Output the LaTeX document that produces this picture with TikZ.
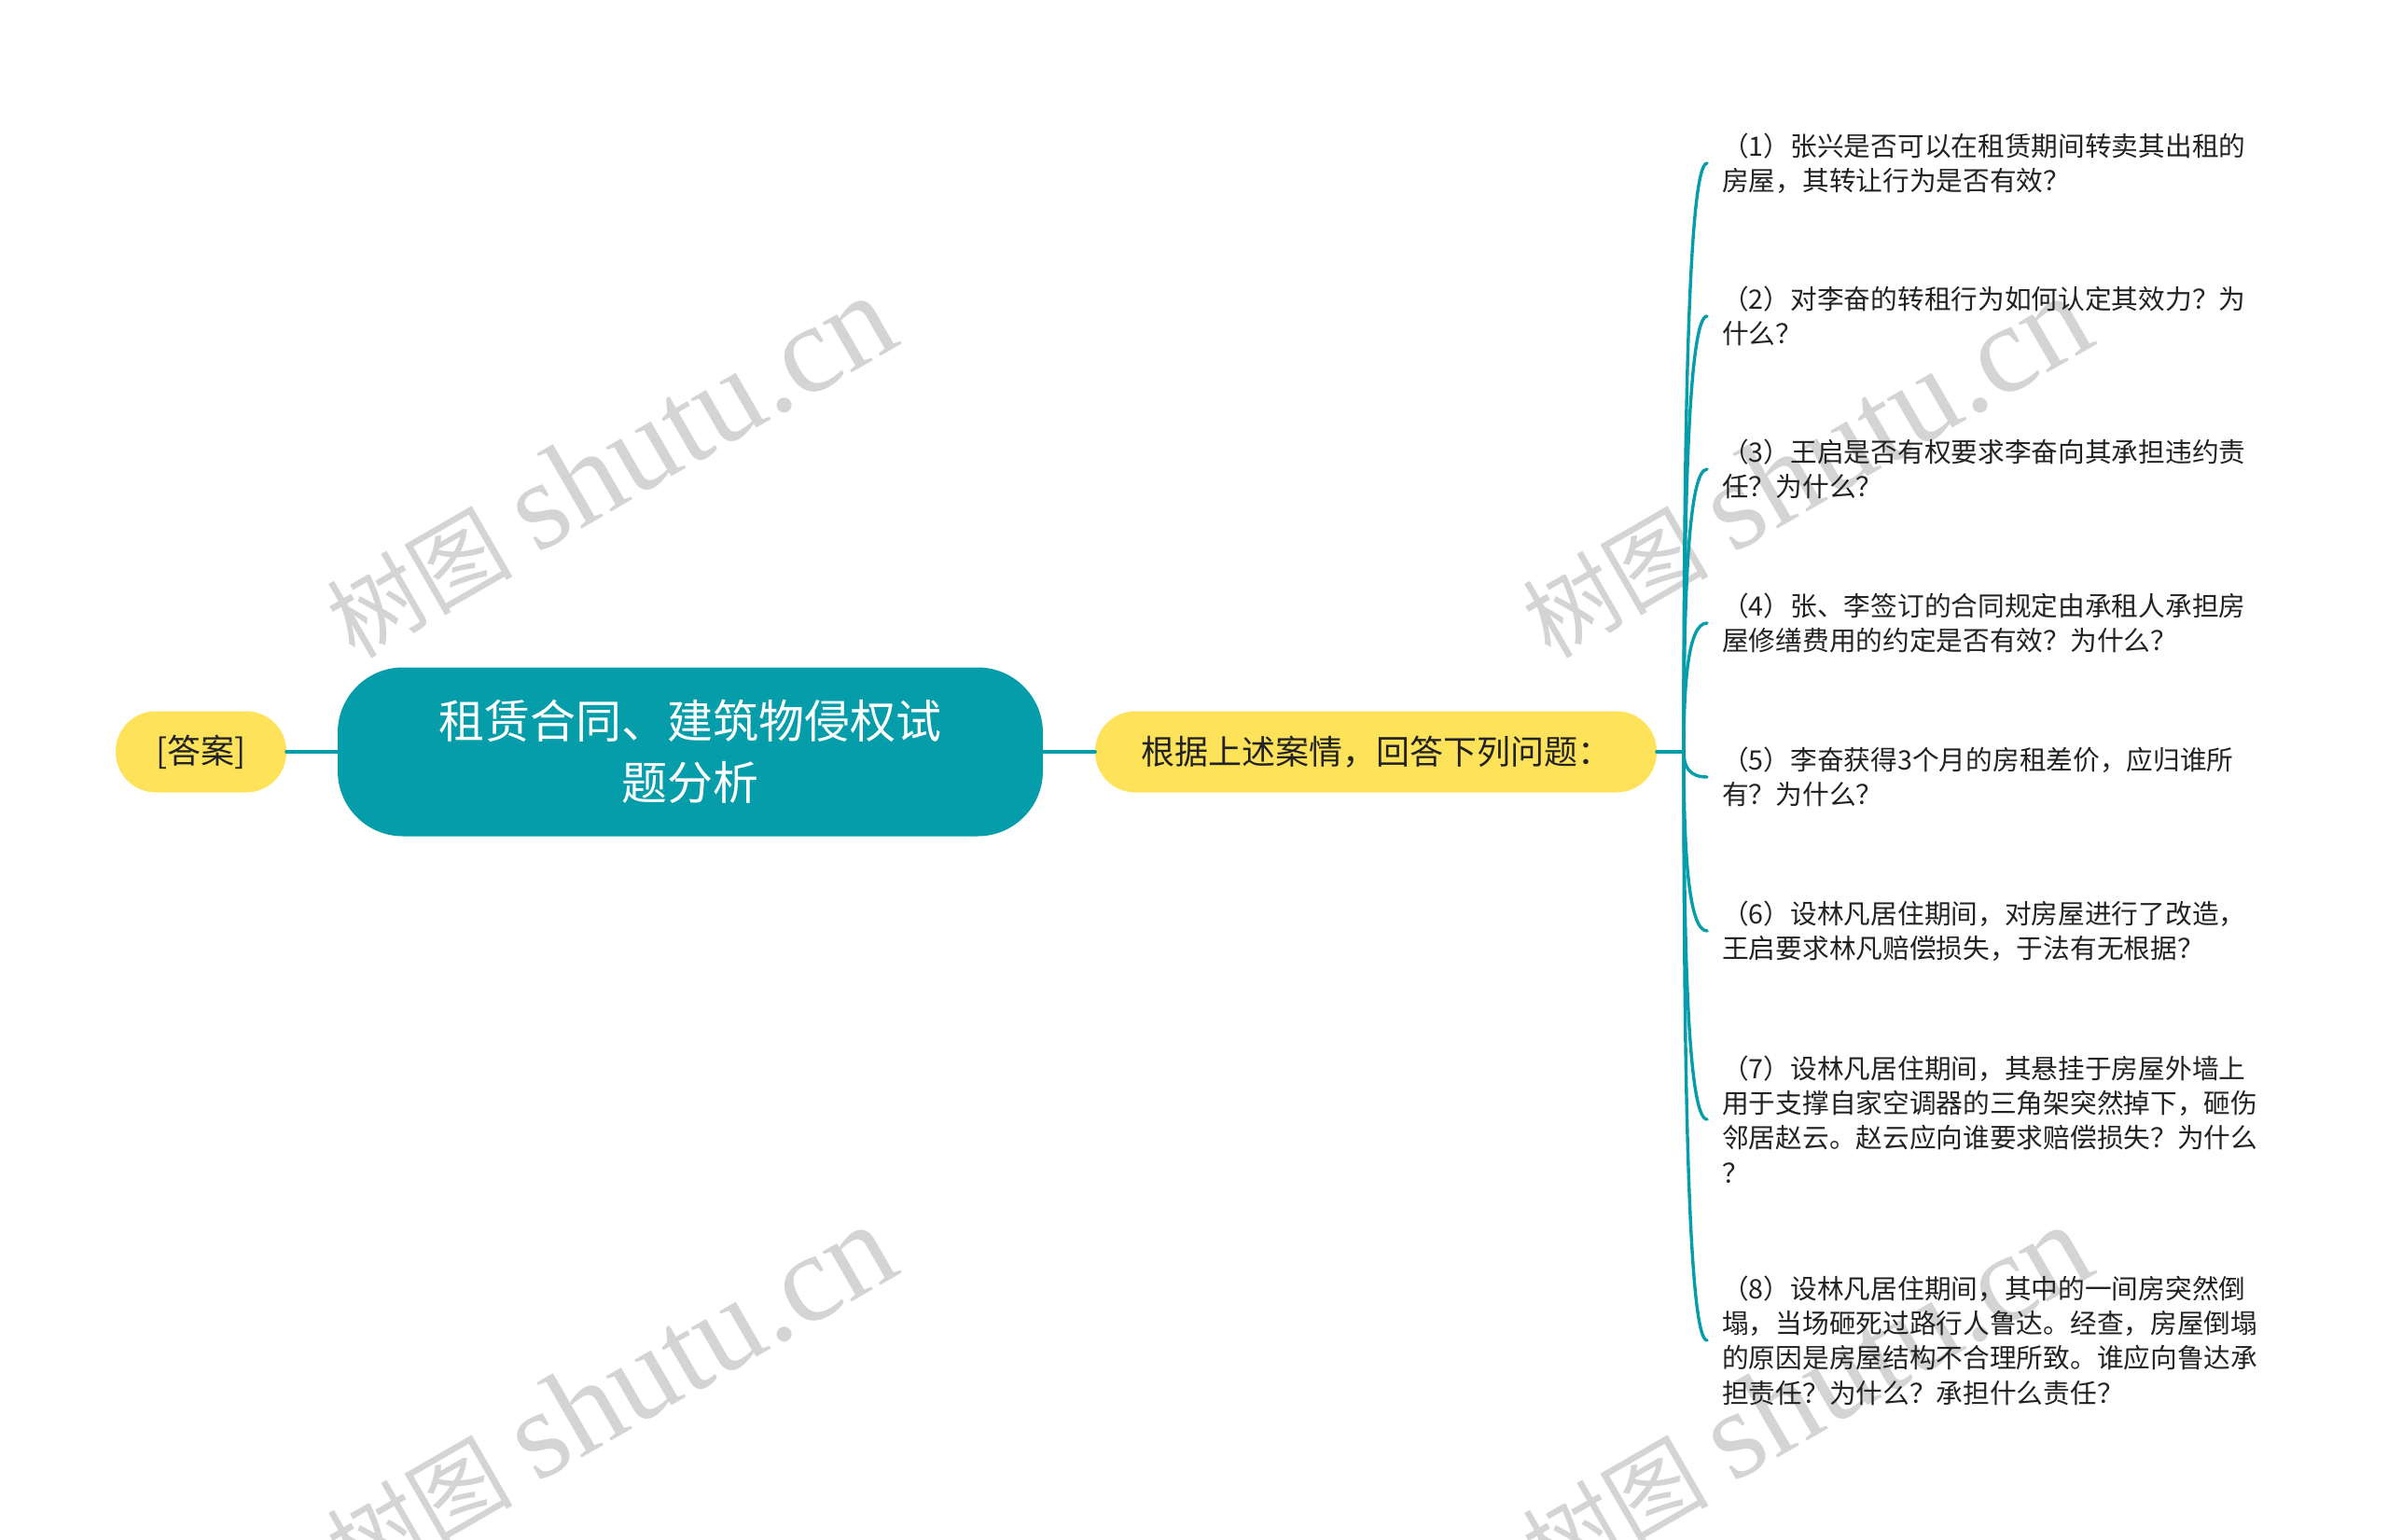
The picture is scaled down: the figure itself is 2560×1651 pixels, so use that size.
\documentclass[tikz,border=0pt]{standalone}
\usepackage{fontspec}
\setmainfont{Noto Sans CJK SC}
\newfontfamily\wmlat{Liberation Serif}
\usetikzlibrary{calc}
\definecolor{teal1}{RGB}{6,157,170}
\definecolor{yel}{RGB}{253,226,90}
\definecolor{wm}{RGB}{212,212,212}
\definecolor{txt}{RGB}{34,34,34}
\begin{document}
\begin{tikzpicture}[x=1pt,y=-1pt,
 leaf/.style={anchor=west,align=left,inner xsep=16pt,inner ysep=2pt,text=txt,font=\fontsize{28.7}{37.3}\selectfont},
 yelbox/.style={fill=yel,rounded corners=43pt,minimum height=87pt,inner sep=0pt,text=txt,font=\fontsize{36}{44}\selectfont},
 root/.style={fill=teal1,rounded corners=70pt,minimum width=756pt,minimum height=181pt,align=center,text=white,font=\fontsize{49}{66}\selectfont},
 link/.style={draw=teal1,line width=4pt,line cap=round},
 branch/.style={draw=teal1,line width=3.4pt,line cap=round},
 wmark/.style={text=wm,rotate=30,anchor=base west,inner sep=0pt}
]
\useasboundingbox (0,0) rectangle (2560,1651);
\begin{scope}
\clip (0,0) rectangle (2560,1651);
\foreach \dx/\dy/\k in {0/0/a,1282/0/b,0/996/c,1282/996/d}{
  \node[wmark] (wm\k) at (380+\dx,708+\dy) {\fontsize{100}{100}\selectfont 树图\hspace{26pt}{\wmlat\fontsize{135}{135}\selectfont shutu.cn}};
}
\end{scope}
\node[yelbox,minimum width=183pt] (ans) at (215.5,806) {[答案]};
\node[root] (root) at (740,806) {租赁合同、建筑物侵权试\\题分析};
\node[yelbox,minimum width=602pt] (q) at (1475,806) {根据上述案情，回答下列问题：};
\coordinate (J) at (1805,806);
\node[leaf] (l1) at (1830,175) {（1）张兴是否可以在租赁期间转卖其出租的\\房屋，其转让行为是否有效？};
\node[leaf] (l2) at (1830,339) {（2）对李奋的转租行为如何认定其效力？为\\什么？};
\node[leaf] (l3) at (1830,503) {（3）王启是否有权要求李奋向其承担违约责\\任？为什么？};
\node[leaf] (l4) at (1830,668) {（4）张、李签订的合同规定由承租人承担房\\屋修缮费用的约定是否有效？为什么？};
\node[leaf] (l5) at (1830,833) {（5）李奋获得3个月的房租差价，应归谁所\\有？为什么？};
\node[leaf] (l6) at (1830,998) {（6）设林凡居住期间，对房屋进行了改造，\\王启要求林凡赔偿损失，于法有无根据？};
\node[leaf] (l7) at (1830,1200) {（7）设林凡居住期间，其悬挂于房屋外墙上\\用于支撑自家空调器的三角架突然掉下，砸伤\\邻居赵云。赵云应向谁要求赔偿损失？为什么\\？};
\node[leaf] (l8) at (1830,1437) {（8）设林凡居住期间，其中的一间房突然倒\\塌，当场砸死过路行人鲁达。经查，房屋倒塌\\的原因是房屋结构不合理所致。谁应向鲁达承\\担责任？为什么？承担什么责任？};
\draw[link] (ans.east) -- (root.west);
\draw[link] (root.east) -- (q.west);
\draw[link] (q.east) -- (J);
\foreach \n in {1,...,8}
  \draw[branch] (J) .. controls ($(J)!0.55!(J |- l\n.west)$) and ($(l\n.west)+(-20,0)$) .. (l\n.west);
\end{tikzpicture}
\end{document}
